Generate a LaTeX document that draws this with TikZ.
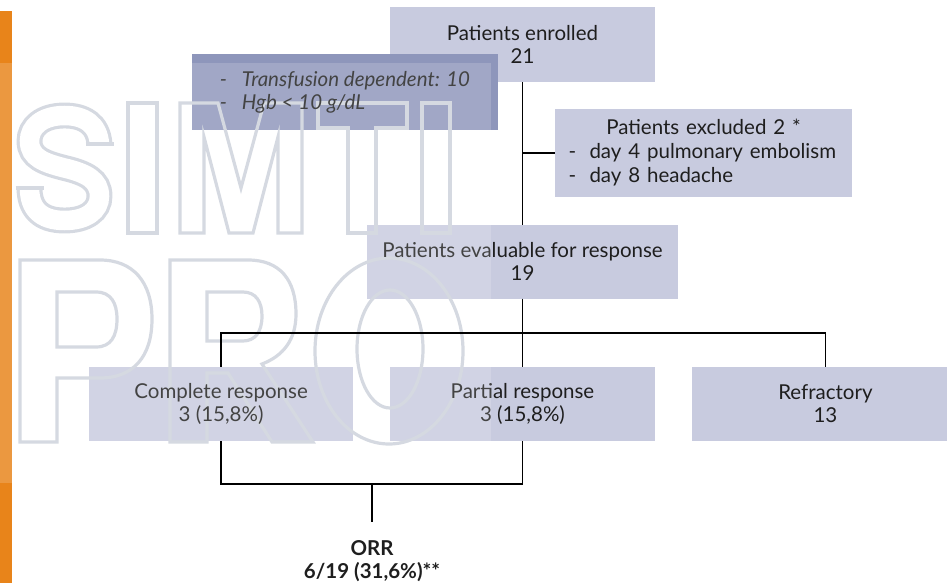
\documentclass[tikz,border=0pt]{standalone}
\usepackage{fontspec}
\setmainfont{Lato}
\usetikzlibrary{positioning}
\definecolor{boxfill}{HTML}{C8CBDF}
\definecolor{tffill}{HTML}{8E96BB}
\definecolor{bardark}{HTML}{E8841A}
\definecolor{markgray}{HTML}{CDD2DB}
\definecolor{inkblack}{HTML}{1E1E1E}
\newcommand{\boxfont}{\fontsize{20.5}{23}\selectfont}
\tikzstyle{box} = [rectangle, text=inkblack, align=center, inner sep=0pt, font=\boxfont]
\tikzstyle{link} = [line width=1.8pt, black]
\tikzstyle{markline} = [draw=markgray, line width=3.2pt]
\pgfdeclarelayer{boxbg}
\pgfsetlayers{boxbg,main}

\begin{document}
\begin{tikzpicture}[
				x=1pt, y=-1pt,
				node distance=37pt
			]
			\useasboundingbox (0,0) rectangle (947,583);

			% orange side bar
			\fill[bardark] (0,11) rectangle (12,583);

			% SIMTI PRO mark, outlined letters
			% S
			\draw[markgray, line width=3.2pt, double=white, double distance=19.5pt]
				(99.5,144) .. controls (98,124) and (84,115.5) .. (64.5,115.5)
				.. controls (42,115.5) and (29.5,127) .. (29.5,141)
				.. controls (29.5,158) and (45,163) .. (64.5,168)
				.. controls (86,173) and (99.5,180) .. (99.5,196)
				.. controls (99.5,211) and (86,220.5) .. (64.5,220.5)
				.. controls (40,220.5) and (29.5,208) .. (29.5,188);
			\draw[markline] (85.5,144) -- (113.5,144);
			\draw[markline] (15.5,188) -- (43.5,188);
			% I M T I
			\draw[markline] (128,103) rectangle (157,233);
			\draw[markline] (180,233) -- (180,103) -- (218,103) -- (241,188) -- (264,103) -- (302,103) -- (302,233) -- (278,233)
				-- (278,137) -- (253,233) -- (229,233) -- (204,137) -- (204,233) -- cycle;
			\draw[markline] (318,103) -- (407,103) -- (407,128) -- (376,128) -- (376,233) -- (348,233) -- (348,128) -- (318,128) -- cycle;
			\draw[markline] (422,103) rectangle (450,233);
			% P
			\draw[markline] (20,442) -- (20,260) -- (100,260) .. controls (133,260) and (152,282) .. (152,319)
				.. controls (152,357) and (133,378) .. (100,378) -- (57,378) -- (57,442) -- cycle;
			\draw[markline] (57,292) -- (96,292) .. controls (111,292) and (117,303) .. (117,319)
				.. controls (117,336) and (111,347) .. (96,347) -- (57,347) -- cycle;
			% R
			\draw[markline] (170,442) -- (170,260) -- (248,260) .. controls (280,260) and (296,280) .. (296,314)
				.. controls (296,340) and (283,356) .. (262,364) -- (313,442) -- (272,442) -- (228,373)
				-- (207,373) -- (207,442) -- cycle;
			\draw[markline] (207,292) -- (243,292) .. controls (256,292) and (262,302) .. (262,316)
				.. controls (262,332) and (255,341) .. (243,341) -- (207,341) -- cycle;
			% O
			\draw[markline] (389,351) ellipse [x radius=74, y radius=93];
			\draw[markline] (390,349) ellipse [x radius=33, y radius=59];

			\node[box, minimum width=265pt, minimum height=75pt] (enrolled) at (522.5,44.5) {Patients enrolled\\21};
			\node[box, minimum width=306pt, minimum height=76pt, align=left, font=\boxfont\itshape] (transf) at (345,92)
				{\makebox[22pt][l]{-}Transfusion dependent: 10\\\makebox[22pt][l]{-}Hgb < 10 g/dL};
			\node[box, minimum width=297pt, minimum height=88pt, text width=270pt, inner xsep=13.5pt, align=left, font=\fontsize{20.5}{24}\selectfont] (excluded) at (703.5,153)
				{\makebox[270pt]{Patients excluded 2 *}\\\makebox[21pt][l]{-}day 4 pulmonary embolism\\\makebox[21pt][l]{-}day 8 headache};
			\node[box, minimum width=311pt, minimum height=73pt, below=143pt of enrolled] (evaluable) {Patients evaluable for response\\19};

			\node[box, minimum width=265pt, minimum height=74pt, below=68pt of evaluable] (partial) {Partial response\\3 (15,8\%)};
			\node[box, minimum width=263pt, minimum height=74pt, left=of partial] (complete) {Complete response\\3 (15,8\%)};
			\node[box, minimum width=266pt, minimum height=74pt, right=of partial] (refract) {Refractory\\13};

			\node[font=\boxfont\bfseries, text=inkblack, align=center, inner xsep=0pt, inner ysep=18pt, anchor=north] (orr) at (372,522) {ORR\\6/19 (31,6\%)**};

			% box fills, kept under the mark
			\begin{pgfonlayer}{boxbg}
				\foreach \b/\c in {enrolled/boxfill, transf/tffill, excluded/boxfill, evaluable/boxfill, partial/boxfill, complete/boxfill, refract/boxfill}
					\fill[\c] (\b.south west) rectangle (\b.north east);
			\end{pgfonlayer}

			% washed-out panel
			\fill[white, opacity=0.17] (0,63) rectangle (491,483);

			% connectors
			\coordinate (split) at (522.5,333);
			\coordinate (join) at (372,484);
			\draw[link] (enrolled) -- (evaluable);
			\draw[link] (excluded.west) -- (excluded.west -| enrolled.south);
			\draw[link] (evaluable) -- (partial);
			\draw[link] (complete.north) |- (split) -| (refract.north);
			\draw[link] (complete.south) |- (join) -| (partial.south);
			\draw[link] (join) -- (orr.north);
		\end{tikzpicture}
\end{document}
